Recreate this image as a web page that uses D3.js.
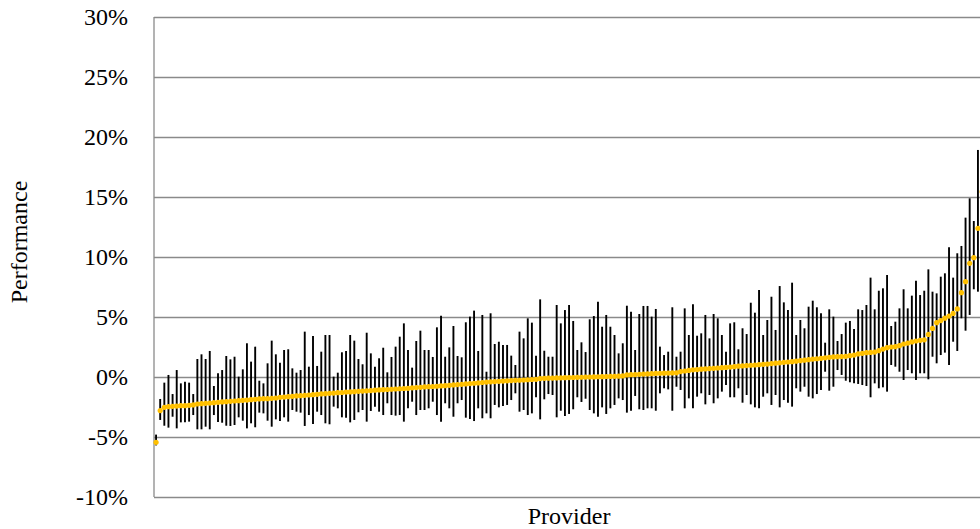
<!DOCTYPE html>
<html>
<head>
<meta charset="utf-8">
<script src="https://cdn.jsdelivr.net/npm/d3@7"></script>
<style>
  body { margin: 0; background: #fff; }
  svg text { font-family: "Liberation Serif", "Times New Roman", Times, serif; }
</style>
</head>
<body>
<svg id="chart" width="980" height="529"></svg>
<script>
//------------------- data (percent) ----------------------------------------
var performance = [
  -5.44,
  -2.8, -2.53, -2.47, -2.44, -2.42, -2.39, -2.39, -2.36, -2.33, -2.25,
  -2.22, -2.19, -2.17, -2.14, -2.11, -2.08, -2.06, -2.03, -2.0, -1.97,
  -1.94, -1.92, -1.89, -1.86, -1.83, -1.81, -1.81, -1.78, -1.75, -1.69,
  -1.67, -1.64, -1.61, -1.58, -1.56, -1.53, -1.5, -1.47, -1.44,
  -1.41, -1.39, -1.36, -1.34, -1.31, -1.29, -1.26, -1.24, -1.22, -1.19,
  -1.17, -1.15, -1.13, -1.1, -1.08, -1.06, -1.04, -1.02, -1.0, -0.98,
  -0.96, -0.94, -0.9, -0.88, -0.86, -0.83, -0.81, -0.79, -0.77, -0.74,
  -0.72, -0.69, -0.66, -0.63, -0.61, -0.58, -0.55, -0.52, -0.49, -0.46,
  -0.42, -0.4, -0.38, -0.36, -0.34, -0.32, -0.3, -0.28, -0.27, -0.25,
  -0.23, -0.21, -0.19, -0.13, -0.11, -0.1, -0.09, -0.08, -0.07, -0.06,
  -0.05, -0.04, -0.03, -0.02, -0.01, 0.0, 0.01, 0.02, 0.03, 0.04,
  0.05, 0.06, 0.07, 0.09, 0.17, 0.19, 0.2, 0.22, 0.24, 0.26,
  0.28, 0.3,
  0.31, 0.32, 0.33, 0.34, 0.35, 0.45, 0.5, 0.55, 0.6, 0.62,
  0.65, 0.67, 0.7, 0.72, 0.75, 0.78, 0.8, 0.83, 0.86, 0.9,
  0.92, 0.95, 0.98, 1.0, 1.03, 1.06, 1.08, 1.12, 1.15, 1.18,
  1.22, 1.25, 1.28, 1.32, 1.36, 1.4, 1.44, 1.49, 1.52, 1.56,
  1.6, 1.64, 1.67, 1.69, 1.7, 1.72, 1.78, 1.83, 1.92, 1.97,
  2.03, 2.05, 2.08, 2.19, 2.33, 2.44, 2.5, 2.53, 2.61, 2.75,
  2.83, 2.92, 3.0, 3.06, 3.1, 3.55, 4.05, 4.53, 4.7, 4.9,
  5.08, 5.3, 5.67, 7.03, 7.94, 9.47, 9.94, 12.39,
  15.44
];
var upper = [
  -4.8,
  -1.83, -0.47, 0.17, -1.42, 0.58, -0.53, -0.39, -0.47, -1.42, 1.5,
  1.89, 1.5, 2.17, -0.75, 0.31, 0.58, 1.75, 1.47, 1.69, 0.03,
  0.64, 2.81, 1.28, 2.53, -0.31, -0.53, 1.14, 3.03, 1.89, 1.19,
  2.25, 2.31, 0.72, 0.36, 0.58, 3.78, 0.86, 3.42, 0.92,
  2.11, 3.5, 3.5, 0.03, 0.36, 2.06, 2.17, 3.5, 3.03, 1.5,
  1.06, 3.69, 1.97, 0.86, 1.56, 2.44, 0.39, 1.67, 2.53, 3.36,
  4.47, 2.25, 0.78, 3.0, 3.86, 2.25, 2.25, 1.67, 4.14, 5.11,
  1.69, 2.47, 4.25, 1.75, 1.64, 4.56, 5.03, 5.53, 2.17, 5.17,
  0.44,
  5.31, 2.75, 2.94, 2.67, 2.67, 1.78, 1.0, 3.78, 3.22, 4.89,
  4.53, 1.78, 6.47, 2.19, 1.69, 1.69, 6.0, 4.47, 5.58, 6.0,
  4.67, 2.25, 2.89, 2.08, 4.81, 5.08, 6.28, 4.19, 5.17, 4.19,
  3.5, 1.97, 2.81, 5.94, 5.44, 2.25, 5.25, 5.92, 5.92, 5.03,
  5.67, 2.53, 1.83, 2.11, 5.81, 1.69, 2.11, 5.72, 3.5, 6.06,
  3.44, 3.64, 5.17, 3.22, 5.25, 4.89, 3.5, 2.11, 4.47, 4.56,
  2.31, 4.06, 3.58, 6.19, 5.36, 7.25, 3.5, 4.75, 6.69, 3.92,
  7.58, 6.22, 5.58, 7.86, 3.5, 4.75, 4.06, 5.86, 6.36, 5.81,
  5.31,
  2.86, 5.64, 5.03, 3.0, 3.58, 4.53, 4.67, 4.0, 5.64, 5.58,
  6.0, 8.28, 5.64, 7.19, 7.39, 8.5, 4.25, 4.61, 5.72, 7.31,
  5.72, 6.78, 8.03, 6.83, 7.19, 8.97, 7.11, 6.97, 8.36, 8.64,
  10.81, 8.28, 10.31, 10.92, 13.28, 14.89, 13.0, 18.92,
  21.0
];
var lower = [
  -5.7,
  -3.58, -4.06, -4.22, -3.31, -4.28, -3.78, -3.78, -3.72, -3.17, -4.36,
  -4.36, -4.14, -4.36, -3.17, -3.75, -3.81, -4.06, -4.08, -4.0, -3.36,
  -3.64, -4.28, -3.86, -4.19, -2.97, -3.03, -3.64, -4.14, -3.53, -3.67,
  -3.36, -3.72, -2.75, -2.89, -2.97, -4.08, -3.17, -3.92, -2.89,
  -3.17, -3.86, -3.94, -2.47, -2.61, -3.36, -3.39, -3.78, -3.58, -2.94,
  -2.75, -3.72, -2.83, -2.47, -2.89, -3.17, -2.19, -3.17, -3.22, -3.17,
  -3.72, -2.61, -2.06, -3.17, -2.75, -2.75, -2.61, -2.06, -3.17, -3.72,
  -2.19, -2.61, -3.31, -2.19, -1.92, -3.39, -3.5, -3.67, -2.61, -3.44,
  -3.03,
  -3.44, -2.33, -2.53, -2.42, -2.33, -1.92, -1.36, -2.89, -2.75, -3.17,
  -3.03, -1.69, -3.53, -1.86, -1.42, -1.5, -3.36, -2.81, -3.25, -3.08,
  -2.69, -1.69, -2.08, -1.81, -2.75, -3.03, -3.31, -2.53, -3.08, -2.61,
  -2.33, -1.78, -1.92, -2.97, -2.81, -1.58, -2.69, -2.75, -2.61, -2.61,
  -2.81, -1.36, -0.94, -1.03, -2.81, -0.81, -1.08, -2.61, -1.78, -2.61,
  -1.64, -1.36, -2.28, -1.5, -2.19, -1.78, -1.22, -0.67, -1.69, -1.69,
  -0.94, -2.14, -1.5, -2.28, -2.53, -2.61, -1.64, -1.36, -2.33, -1.5,
  -2.53, -1.92, -2.14, -2.47, -0.94, -1.22, -0.81, -1.64, -1.78, -1.42,
  -1.08,
  0.44, -1.14, -0.81, 0.58, 0.17, -0.31, -0.44, -0.53, -0.58, -0.67,
  -0.75, -1.69, -0.53, -0.94, -0.86, -1.22, 1.0, 0.86, 0.44, -0.25,
  0.58, 0.31, -0.25, 0.31, 0.31, -0.19, 1.69, 1.14, 1.83, 2.03,
  1.0, 2.94, 2.17, 4.89, 3.86, 5.17, 7.31, 7.11,
  10.0
];
var providers = performance.map(function(d, i){ return i + 1; });
var yTicks = [-10, -5, 0, 5, 10, 15, 20, 25, 30];
var yTickLabels = ["-10%", "-5%", "0%", "5%", "10%", "15%", "20%", "25%", "30%"];

//------------------- layout --------------------------------------------------
var plotLeft = 154, plotTop = 17, plotBottom = 497;
var step = 4.13;
var plotRight = plotLeft + step * providers.length;   // plot runs past the window edge
var serif = "Liberation Serif";

var svg = d3.select("#chart");

var x = d3.scaleBand()
    .domain(providers)
    .range([plotLeft, plotRight])
    .padding(0);

var y = d3.scaleLinear()
    .domain([-10, 30])
    .range([plotBottom, plotTop]);

function cx(i){ return x(providers[i]) + x.bandwidth() / 2; }

//------------------- gridlines + y labels -----------------------------------
var yAxis = d3.axisLeft(y)
    .tickValues(yTicks)
    .tickSize(-(plotRight - plotLeft))
    .tickPadding(26)
    .tickFormat(function(d, i){ return yTickLabels[i]; });

var gy = svg.append("g")
    .attr("transform", "translate(" + plotLeft + ",0)")
    .call(yAxis)
    .attr("font-family", serif)
    .attr("font-size", 24);
gy.select(".domain").remove();
gy.selectAll(".tick line")
    .attr("stroke", "#8a8a8a")
    .attr("stroke-width", 1.3);
gy.selectAll(".tick text")
    .attr("font-family", serif)
    .attr("font-size", 24)
    .attr("fill", "#000");

// value axis line
svg.append("line")
    .attr("x1", plotLeft).attr("x2", plotLeft)
    .attr("y1", plotTop).attr("y2", plotBottom)
    .attr("stroke", "#8a8a8a")
    .attr("stroke-width", 1.3);

//------------------- error bars ---------------------------------------------
svg.append("g")
    .selectAll("line")
    .data(providers)
    .enter()
    .append("line")
    .attr("x1", function(d, i){ return cx(i); })
    .attr("x2", function(d, i){ return cx(i); })
    .attr("y1", function(d, i){ return y(upper[i]); })
    .attr("y2", function(d, i){ return y(lower[i]); })
    .attr("stroke", "#000")
    .attr("stroke-width", 1.9);

//------------------- markers ------------------------------------------------
svg.append("g")
    .selectAll("circle")
    .data(providers)
    .enter()
    .append("circle")
    .attr("cx", function(d, i){ return cx(i); })
    .attr("cy", function(d, i){ return y(performance[i]); })
    .attr("r", 2.6)
    .attr("fill", "#FFC000");

//------------------- axis titles --------------------------------------------
svg.append("text")
    .attr("transform", "translate(27,242) rotate(-90)")
    .attr("text-anchor", "middle")
    .attr("font-family", serif)
    .attr("font-size", 24)
    .text("Performance");

svg.append("text")
    .attr("x", (plotLeft + plotRight) / 2)
    .attr("y", 524)
    .attr("text-anchor", "middle")
    .attr("font-family", serif)
    .attr("font-size", 24)
    .text("Provider");
</script>
</body>
</html>
